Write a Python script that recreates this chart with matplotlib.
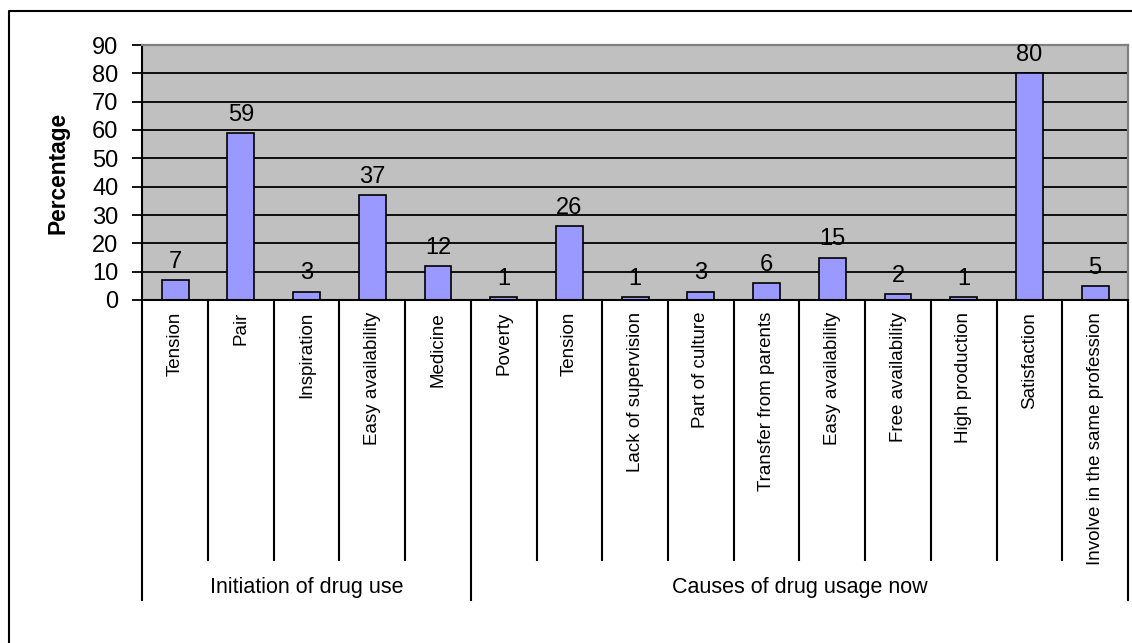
import matplotlib
matplotlib.use("Agg")
import matplotlib.pyplot as plt
from matplotlib.lines import Line2D
from matplotlib.transforms import blended_transform_factory

# Survey responses (percentage of respondents)
groups = ["Initiation of drug use", "Causes of drug usage now"]
initiation_labels = ["Tension", "Pair", "Inspiration", "Easy availability", "Medicine"]
initiation_values = [7, 59, 3, 37, 12]
current_labels = ["Poverty", "Tension", "Lack of supervision", "Part of culture",
                  "Transfer from parents", "Easy availability", "Free availability",
                  "High production", "Satisfaction", "Involve in the same profession"]
current_values = [1, 26, 1, 3, 6, 15, 2, 1, 80, 5]
yticks = [0, 10, 20, 30, 40, 50, 60, 70, 80, 90]

plt.rcParams["font.family"] = ["Liberation Sans", "DejaVu Sans"]

W, H = 1132, 643
fig = plt.figure(figsize=(W / 100, H / 100), dpi=100)
fig.patch.set_facecolor("white")

# plot area in pixel terms
left_px, right_px, top_px, base_px = 142.3, 1128, 45, 300
ax = fig.add_axes([left_px / W, (H - base_px) / H,
                   (right_px - left_px) / W, (base_px - top_px) / H])
ax.set_facecolor("#C0C0C0")

labels = initiation_labels + current_labels
values = initiation_values + current_values
xs = list(range(len(values)))

# horizontal gridlines
for v in yticks[1:-1]:
    ax.axhline(v, color="black", lw=1.3, zorder=0.5)

bars = ax.bar(xs, values, width=0.41, color="#9999FF", edgecolor="black",
              linewidth=1.2, zorder=2)
for x, v in zip(xs, values):
    ax.annotate(str(v), (x, v), xytext=(0, 8.8), textcoords="offset points",
                ha="center", va="baseline", fontsize=17, color="black", zorder=3)

ax.set_xlim(-0.5, len(values) - 0.5)
ax.set_ylim(0, 90)
ax.set_yticks(yticks)
ax.tick_params(axis="y", direction="out", length=7.2, width=1.3, pad=10,
               labelsize=17, colors="black")
ax.set_xticks(xs)
ax.set_xticklabels(labels, rotation=90, fontsize=13.5)
ax.tick_params(axis="x", length=0, pad=8.5)

for side in ("top", "right"):
    ax.spines[side].set_color("#808080")
    ax.spines[side].set_linewidth(1.6)
for side in ("left", "bottom"):
    ax.spines[side].set_color("black")
    ax.spines[side].set_linewidth(1.5)

# category grid beneath the axis
trans = blended_transform_factory(ax.transData, ax.transAxes)
plot_h = base_px - top_px
inner_bottom = (base_px - 560) / plot_h
outer_bottom = (base_px - 600) / plot_h
group_sizes = [len(initiation_values), len(current_values)]
group_edges = [-0.5]
for n in group_sizes:
    group_edges.append(group_edges[-1] + n)
for i in range(len(values) + 1):
    xb = i - 0.5
    yb = outer_bottom if xb in group_edges else inner_bottom
    ax.add_line(Line2D([xb, xb], [0, yb], transform=trans, color="black",
                       lw=1.5, clip_on=False))

label_y = (base_px - 588) / plot_h
for name, a, b in zip(groups, group_edges[:-1], group_edges[1:]):
    ax.text((a + b) / 2, label_y, name, transform=trans, ha="center",
            va="center", fontsize=15.5, color="black")

# y-axis title
fig.text(58 / W, 1 - 172.5 / H, "Percentage", rotation=90, ha="center",
         va="center", fontsize=16.4, fontweight="bold")

# outer chart frame
fig.add_artist(Line2D([9 / W, 9 / W, 1.0], [0.0, 1 - 11 / H, 1 - 11 / H],
                      transform=fig.transFigure, color="black", lw=1.5))

fig.savefig("out.png", dpi=100, facecolor="white")
